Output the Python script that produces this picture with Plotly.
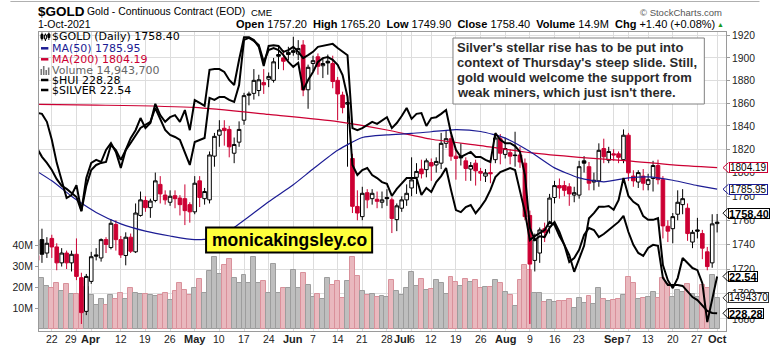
import math
import pandas as pd
import plotly.graph_objects as go

# ---------------------------------------------------------------- sessions
holidays = ["2021-04-02", "2021-05-31", "2021-07-05", "2021-09-06"]
dates = [d.strftime("%Y-%m-%d") for d in pd.bdate_range("2021-03-17", "2021-10-01")
         if d.strftime("%Y-%m-%d") not in holidays]

# ---------------------------------------------------------------- $GOLD daily OHLC (rows = weeks)
gold_open = [
    1731, 1744, 1733,
    1745, 1738, 1725, 1733, 1725,
    1732, 1713, 1686, 1710,
    1731.5, 1729, 1744, 1737.5, 1756.5,
    1744, 1731, 1746, 1734, 1764,
    1776.5, 1770.5, 1776.5, 1790, 1781,
    1775, 1780.5, 1778.5, 1778, 1773,
    1767, 1793, 1778, 1777, 1814,
    1832, 1838, 1837, 1816.5, 1826,
    1845, 1868, 1868.5, 1871, 1878,
    1881, 1880, 1903, 1900, 1905,
    1906.5, 1903.5, 1911.6, 1871.7,
    1895, 1901, 1893, 1897, 1895,
    1880, 1867, 1859, 1812, 1771.5,
    1763, 1783, 1778, 1777.5, 1775,
    1779, 1777, 1760.5, 1770, 1777,
    1787, 1796, 1803, 1802.5,
    1808.5, 1806.5, 1808, 1825, 1829,
    1814, 1814, 1810, 1803, 1808,
    1801, 1797, 1800, 1811, 1829,
    1815.5, 1817, 1815, 1815, 1808,
    1764, 1727, 1733, 1753, 1755,
    1779, 1789, 1789, 1788, 1781,
    1781, 1810, 1805, 1792, 1793,
    1820.5, 1810.5, 1816, 1816, 1811,
    1832, 1797, 1792, 1797,
    1790, 1795, 1806, 1794, 1755,
    1753, 1765, 1773, 1770, 1742,
    1752, 1749, 1734, 1725, 1757.2,
]
gold_high = [
    1734, 1753, 1746,
    1748, 1741, 1737, 1735, 1735,
    1745, 1717, 1716, 1734,
    1737, 1745, 1746, 1761, 1760,
    1747, 1750, 1749, 1774, 1784,
    1780, 1778, 1800, 1797, 1785,
    1785, 1785, 1781, 1790, 1775,
    1797, 1797, 1787, 1818, 1834,
    1845, 1845, 1840, 1830, 1844,
    1869, 1870, 1890, 1885, 1890,
    1887, 1900, 1910, 1907, 1910,
    1919, 1916, 1916, 1894,
    1902, 1904, 1900, 1903, 1902,
    1883, 1870, 1866, 1816, 1785,
    1788, 1786, 1786, 1784, 1784,
    1786, 1779, 1774, 1780, 1790,
    1813, 1808, 1811, 1812,
    1812, 1813, 1834, 1836, 1832,
    1820, 1825, 1813, 1809, 1811,
    1804, 1803, 1808, 1833, 1833,
    1830, 1820, 1835, 1822, 1812,
    1768, 1749, 1754, 1758, 1782,
    1793, 1795, 1793, 1791, 1788,
    1810, 1814, 1809, 1800, 1825,
    1829, 1822, 1820, 1818, 1837,
    1834, 1802, 1802, 1803,
    1799, 1810, 1811, 1797, 1760,
    1766, 1785, 1786, 1774, 1752,
    1762, 1752, 1738, 1765, 1765.2,
]
gold_low = [
    1722, 1725, 1729,
    1729, 1719, 1722, 1720, 1718,
    1711, 1676, 1683, 1708,
    1727, 1726, 1733, 1736, 1735,
    1729, 1723, 1733, 1733, 1763,
    1767, 1762, 1775, 1774, 1773,
    1772, 1770, 1764, 1756, 1758,
    1765, 1771, 1773, 1774, 1805,
    1822, 1823, 1813, 1808, 1822,
    1841, 1858, 1863, 1866, 1868,
    1874, 1878, 1890, 1889, 1898,
    1902, 1898, 1866, 1855,
    1888, 1885, 1882, 1885, 1873,
    1845, 1851, 1805, 1766, 1760,
    1760, 1770, 1773, 1770, 1770,
    1772, 1749.4, 1751, 1767, 1772,
    1780, 1782, 1795, 1796,
    1793, 1800, 1803, 1821, 1810,
    1794, 1806, 1793, 1793, 1789,
    1793, 1792, 1791, 1808, 1807,
    1812, 1807, 1805, 1804, 1760,
    1676, 1718, 1725, 1742, 1749,
    1774, 1778, 1780, 1772, 1775,
    1778, 1800, 1785, 1785, 1788,
    1808, 1808, 1810, 1808, 1808,
    1793, 1788, 1787, 1785,
    1785, 1784, 1790, 1745, 1742,
    1741, 1760, 1765, 1743, 1737,
    1745, 1728, 1719, 1721, 1749.9,
]
gold_close = [
    1727, 1732, 1741,
    1738, 1725, 1733, 1725, 1732,
    1714, 1685, 1714, 1730,
    1730.5, 1744, 1740, 1757.5, 1744,
    1731.5, 1746, 1734.5, 1766, 1777,
    1770.5, 1776, 1793, 1782, 1777,
    1780, 1778, 1773, 1768, 1767,
    1791, 1779, 1784, 1815, 1831,
    1836.5, 1836, 1822, 1824, 1837,
    1866.5, 1867, 1880, 1880.5, 1876,
    1883.5, 1896.5, 1901.5, 1897, 1903,
    1905, 1908.5, 1871.5, 1891.6,
    1897.5, 1892.5, 1895, 1895.5, 1879,
    1868, 1856, 1860.5, 1771.6, 1766,
    1782.5, 1777, 1782.5, 1775.8, 1777,
    1778, 1761.5, 1772, 1777, 1782.5,
    1793.8, 1801, 1799, 1810,
    1805.6, 1809.5, 1825, 1829, 1814,
    1812, 1812.5, 1803.5, 1806, 1801.5,
    1799.5, 1799.7, 1799, 1829.6, 1816.5,
    1820.5, 1814, 1814.5, 1809, 1763,
    1724, 1744, 1752, 1750, 1778.5,
    1789, 1787, 1785, 1782, 1783,
    1805, 1808, 1791, 1793.5, 1819,
    1813.5, 1818, 1815, 1813, 1832,
    1799.8, 1793, 1800, 1791,
    1794, 1806, 1794, 1755.3, 1751,
    1763, 1775, 1778, 1749, 1750,
    1751, 1737, 1722, 1757, 1758.4,
]
# daily volume, millions of contracts
volume_m = [
    21.0, 24.2, 20.6,
    19.5, 21.8, 18.2, 21.5, 16.6,
    16.6, 16.0, 20.0, 16.3,
    11.6, 14.3, 11.6, 16.3, 14.3,
    17.2, 14.3, 19.5, 17.2, 16.6,
    16.6, 16.3, 15.8, 16.3, 17.2,
    14.0, 18.0, 21.8, 18.7, 16.3,
    19.8, 23.9, 17.2, 27.8, 34.2,
    26.3, 30.5, 33.2, 24.2, 21.8,
    25.8, 21.8, 34.2, 21.8, 23.1,
    17.1, 31.0, 17.4, 19.8, 19.4,
    28.2, 19.6, 26.8, 21.0,
    15.5, 16.7, 14.5, 24.2, 21.0,
    23.0, 15.0, 22.8, 34.5, 25.5,
    18.3, 16.3, 17.0, 15.5, 15.8,
    15.5, 23.4, 18.0, 16.5, 19.5,
    27.2, 20.5, 24.0, 18.5,
    19.0, 23.5, 22.0, 17.0, 25.0,
    22.5, 20.5, 24.0, 22.5, 23.4,
    19.5, 20.0, 20.0, 23.4, 22.0,
    17.5, 16.5, 11.0, 23.4, 30.5,
    28.2, 17.4, 17.4, 13.1, 13.9,
    13.0, 13.6, 13.3, 14.3, 10.3,
    14.7, 12.5, 15.8, 12.2, 19.5,
    14.5, 13.5, 14.0, 14.5, 16.5,
    24.7, 21.8, 14.5, 14.8,
    15.5, 17.5, 15.0, 24.2, 21.5,
    15.5, 18.7, 17.8, 21.5, 17.0,
    15.5, 20.9, 19.5, 25.8, 14.9437,
]
# $SILVER close
silver = [
    26.44, 26.42, 26.23,
    25.80, 25.25, 24.84, 24.41, 24.48,
    24.72, 24.10, 24.89, 25.25,
    25.32, 25.27, 25.56, 25.72, 25.51,
    25.13, 25.56, 25.84, 26.03, 26.32,
    26.08, 26.20, 26.66, 26.39, 26.23,
    26.34, 26.39, 26.23, 26.51, 26.03,
    26.75, 26.68, 26.61, 27.47, 27.49,
    27.49, 27.42, 27.23, 27.11, 27.71,
    28.25, 28.25, 28.18, 28.02, 27.56,
    28.04, 28.06, 28.04, 27.90, 27.94,
    28.02, 27.90, 27.75, 27.82,
    27.90, 28.02, 28.04, 28.06, 28.09,
    27.99, 27.90, 27.82, 26.08, 26.03,
    26.08, 26.15, 26.23, 26.18, 26.27,
    26.34, 26.08, 26.20, 26.37, 26.56,
    26.30, 26.42, 26.44, 26.13,
    26.32, 26.34, 26.42, 26.51, 25.96,
    25.56, 25.39, 25.46, 25.51, 25.39,
    25.39, 25.32, 25.27, 25.96, 25.80,
    25.72, 25.72, 25.65, 25.51, 24.96,
    23.70, 23.41, 23.50, 23.48, 23.70,
    23.84, 23.60, 23.29, 23.05, 22.65,
    22.98, 23.27, 23.93, 24.05, 24.20,
    24.20, 24.22, 24.13, 24.36, 24.89,
    24.46, 24.32, 24.24, 23.98,
    23.89, 23.89, 23.93, 22.81, 22.45,
    22.26, 22.50, 22.98, 22.86, 22.74,
    22.69, 22.38, 21.45, 22.03, 22.54,
]
# $HUI close
hui = [
    277.3, 274.7, 272.9,
    270.8, 268.1, 266.1, 265.2, 264.0,
    262.8, 258.6, 266.1, 270.8,
    272.3, 272.9, 273.2, 278.2, 276.7,
    273.8, 276.7, 278.8, 280.9, 283.3,
    284.2, 285.1, 289.2, 286.2, 282.7,
    281.2, 280.6, 279.7, 275.9, 272.3,
    279.1, 279.7, 280.3, 292.2, 291.6,
    292.5, 292.5, 291.6, 291.0, 296.0,
    309.4, 310.0, 309.1, 307.9, 302.9,
    306.4, 307.0, 306.4, 304.9, 302.9,
    301.4, 302.6, 294.5, 297.5,
    299.9, 302.9, 304.0, 304.3, 303.5,
    302.0, 299.0, 292.5, 272.3, 269.3,
    270.8, 271.4, 269.3, 268.4, 267.2,
    266.7, 263.1, 265.2, 266.7, 268.4,
    268.4, 268.4, 263.4, 265.5,
    264.3, 267.2, 269.0, 271.4, 264.9,
    258.9, 258.3, 259.8, 260.4, 258.0,
    259.8, 261.9, 264.9, 268.7, 270.2,
    270.8, 271.4, 270.8, 264.9, 258.3,
    250.0, 251.2, 252.1, 253.0, 255.4,
    254.5, 251.2, 248.6, 243.5, 244.7,
    247.1, 251.5, 253.6, 253.0, 250.9,
    251.8, 253.0, 254.2, 255.4, 257.2,
    252.4, 248.6, 246.2, 245.3,
    247.7, 248.6, 248.3, 238.8, 236.7,
    236.7, 236.7, 236.4, 234.6, 233.1,
    232.2, 230.7, 229.0, 228.4, 228.28,
]
# moving averages
ma50_dates = ["2021-03-17", "2021-03-22", "2021-03-26", "2021-03-29", "2021-04-05", "2021-04-12",
              "2021-04-19", "2021-04-26", "2021-05-03", "2021-05-10", "2021-05-17", "2021-05-24",
              "2021-06-01", "2021-06-07", "2021-06-14", "2021-06-21", "2021-06-28", "2021-07-06",
              "2021-07-12", "2021-07-19", "2021-07-26", "2021-08-02", "2021-08-09", "2021-08-16",
              "2021-08-23", "2021-08-30", "2021-09-07", "2021-09-13", "2021-09-20", "2021-09-27",
              "2021-10-01"]
ma50 = [1801, 1793, 1780, 1777, 1766.5, 1757, 1751, 1747, 1744, 1746, 1760, 1775.5,
        1789.7, 1803, 1819, 1830, 1832.3, 1833.5, 1835, 1836.8, 1835.2, 1829.5, 1818, 1804,
        1795.5, 1792.2, 1795.5, 1796.4, 1793.5, 1789, 1785.95]
ma200_dates = ["2021-03-17", "2021-04-05", "2021-05-03", "2021-05-24", "2021-06-14", "2021-06-28",
               "2021-07-12", "2021-07-26", "2021-08-09", "2021-08-23", "2021-09-07", "2021-09-20",
               "2021-10-01"]
ma200 = [1858.8, 1858.2, 1856.2, 1850.0, 1843.8, 1836.5, 1828.5, 1823.0, 1817.0, 1813.0,
         1810.0, 1806.5, 1804.19]

price_ticks = list(range(1680, 1921, 20))
volume_ticks = [10, 20, 30, 40]
date_labels = [
    ("2021-03-22", "22"), ("2021-03-29", "29"), ("2021-04-01", "Apr"), ("2021-04-12", "12"),
    ("2021-04-19", "19"), ("2021-04-26", "26"), ("2021-05-03", "May"), ("2021-05-10", "10"),
    ("2021-05-17", "17"), ("2021-05-24", "24"), ("2021-06-01", "Jun"), ("2021-06-07", "7"),
    ("2021-06-14", "14"), ("2021-06-21", "21"), ("2021-06-28", "28"), ("2021-07-01", "Jul"),
    ("2021-07-06", "6"), ("2021-07-12", "12"), ("2021-07-19", "19"), ("2021-07-26", "26"),
    ("2021-08-02", "Aug"), ("2021-08-09", "9"), ("2021-08-16", "16"), ("2021-08-23", "23"),
    ("2021-09-01", "Sep"), ("2021-09-07", "7"), ("2021-09-13", "13"), ("2021-09-20", "20"),
    ("2021-09-27", "27"), ("2021-10-01", "Oct"),
]
months = {"Apr", "May", "Jun", "Jul", "Aug", "Sep", "Oct"}
comment = ["Silver's stellar rise has to be put into",
           "context of Thursday's steep slide. Still,",
           "gold would welcome the support from",
           "weak miners, which just isn't there."]

# ---------------------------------------------------------------- styling / geometry
RED = "#cc0033"
NAVY = "#1c1c94"
GRID = "#dddddd"
FRAME = "#9a9a9a"
ARIAL = "Liberation Sans, Arial, sans-serif"
VERD = "DejaVu Sans, Verdana, sans-serif"
PL, PR, PT, PB = 29, 726, 32, 331          # plot box, pixels


def fx(x):
    return (x - PL) / (PR - PL)


def fy(y):
    return (PB - y) / (PB - PT)


n = len(dates)
xs = list(range(n))
pos = {d: i for i, d in enumerate(dates)}

prev_close = [gold_open[0]] + gold_close[:-1]
up = [c >= p for c, p in zip(gold_close, prev_close)]
hollow = [c >= o for c, o in zip(gold_close, gold_open)]

fig = go.Figure()

# volume histogram (main y, left)
fig.add_trace(go.Bar(
    x=xs, y=volume_m, width=1, yaxis="y", hoverinfo="skip",
    marker=dict(color=["#bebebe" if u else "#e9b8be" for u in up],
                line=dict(color=["#9d9d9d" if u else "#d9919b" for u in up], width=1)),
))

# moving averages
fig.add_trace(go.Scatter(x=[pos[d] for d in ma200_dates], y=ma200, yaxis="y2", mode="lines",
                         line=dict(color=RED, width=1.2, shape="spline", smoothing=0.6),
                         hoverinfo="skip"))
fig.add_trace(go.Scatter(x=[pos[d] for d in ma50_dates], y=ma50, yaxis="y2", mode="lines",
                         line=dict(color=NAVY, width=1.2, shape="spline", smoothing=0.6),
                         hoverinfo="skip"))

# candles: black when up on the day, red when down; hollow when close >= open
styles = {(True, True): ("#000000", "#ffffff"), (True, False): ("#000000", "#000000"),
          (False, True): (RED, "#ffffff"), (False, False): (RED, RED)}
for key, (lc, fc) in styles.items():
    sel = [i for i in xs if (up[i], hollow[i]) == key]
    if not sel:
        continue
    fig.add_trace(go.Candlestick(
        x=sel, open=[gold_open[i] for i in sel], high=[gold_high[i] for i in sel],
        low=[gold_low[i] for i in sel], close=[gold_close[i] for i in sel],
        yaxis="y2", whiskerwidth=0, hoverinfo="skip",
        increasing=dict(line=dict(color=lc, width=1), fillcolor=fc),
        decreasing=dict(line=dict(color=lc, width=1), fillcolor=fc),
    ))

# overlays
fig.add_trace(go.Scatter(x=xs, y=silver, yaxis="y3", mode="lines",
                         line=dict(color="black", width=2), hoverinfo="skip"))
fig.add_trace(go.Scatter(x=xs, y=hui, yaxis="y4", mode="lines",
                         line=dict(color="black", width=2), hoverinfo="skip"))

ann = []
shapes = []


def text(x, y, s, size, color="#000", family=ARIAL, anchor="left", **kw):
    ann.append(dict(xref="paper", yref="paper", x=fx(x), y=fy(y), text=s, showarrow=False,
                    xanchor=anchor, yanchor="middle", font=dict(size=size, color=color, family=family),
                    **kw))


# header
shapes.append(dict(type="line", xref="paper", yref="paper", x0=fx(0), x1=fx(760), y0=fy(1.5), y1=fy(1.5),
                   line=dict(color="#b0b0b0", width=1)))
text(26, 11, "<b>$GOLD</b>", 13.5)
text(76, 11.5, "Gold - Continuous Contract (EOD)", 10.4)
text(242, 12, "CME", 9.5)
text(26, 24.5, "1-Oct-2021", 10.5)
chg = gold_close[-1] - gold_close[-2]
ohlc = (f"<b>Open</b> {gold_open[-1]:.2f}  <b>High</b> {gold_high[-1]:.2f}  "
        f"<b>Low</b> {gold_low[-1]:.2f}  <b>Close</b> {gold_close[-1]:.2f}  "
        f"<b>Volume</b> {volume_m[-1]:.1f}M  <b>Chg</b> {chg:+.2f} ({chg / gold_close[-2] * 100:+.2f}%)")
text(717, 24.5, ohlc, 11, anchor="right")
text(720.5, 24, "▲", 7, color="#1a9a1a", anchor="center")
text(724, 12, "© StockCharts.com", 9.5, color="#555", anchor="right")

# legend block
rows = [
    (36.7, f"$GOLD (Daily) {gold_close[-1]:.2f}", "#000"),
    (48.3, f"MA(50) {ma50[-1]:.2f}", NAVY),
    (59.3, f"MA(200) {ma200[-1]:.2f}", RED),
    (70.0, f"Volume {round(volume_m[-1] * 1e6):,}", "#666"),
    (80.0, f"$HUI {hui[-1]:.2f}", "#000"),
    (90.0, f"$SILVER {silver[-1]:.2f}", "#000"),
]
for y, s, c in rows:
    text(40, y, s, 11, color=c, family=VERD)
for y, c in [(48.3, NAVY), (59.3, RED), (80.0, "#000"), (90.0, "#000")]:
    shapes.append(dict(type="line", xref="paper", yref="paper", x0=fx(31), x1=fx(38.5),
                       y0=fy(y), y1=fy(y), line=dict(color=c, width=2.5)))
for x, y0, y1 in [(32, 32.5, 40.5), (35.5, 33.5, 41), (39, 32.5, 40)]:
    shapes.append(dict(type="line", xref="paper", yref="paper", x0=fx(x), x1=fx(x),
                       y0=fy(y0), y1=fy(y1), line=dict(color="#000", width=1)))
for x0, x1, y0, y1, f in [(31, 33, 34.5, 38.5, "#000"), (34.5, 36.5, 35, 39, "#fff"), (38, 40, 34, 37.5, "#000")]:
    shapes.append(dict(type="rect", xref="paper", yref="paper", x0=fx(x0), x1=fx(x1),
                       y0=fy(y0), y1=fy(y1), fillcolor=f, line=dict(color="#000", width=1)))
for x0, y0 in [(30.5, 69), (33, 66), (35.5, 70), (38, 67.5)]:
    shapes.append(dict(type="rect", xref="paper", yref="paper", x0=fx(x0), x1=fx(x0 + 1.6),
                       y0=fy(y0), y1=fy(75), fillcolor="#777", line=dict(width=0)))

# date axis labels
for d, s in date_labels:
    ann.append(dict(xref="x", yref="paper", x=pos[d], y=0, yshift=-7.5,
                    xshift=-5 if d == "2021-03-29" else 0,
                    text=f"<b>{s}</b>" if s in months else s, showarrow=False,
                    xanchor="center", yanchor="middle",
                    font=dict(size=11 if s in months else 10.5, color="#222", family=ARIAL)))

# commentary box
shapes.append(dict(type="rect", xref="paper", yref="paper", x0=fx(449), x1=fx(704), y0=fy(38), y1=fy(104),
                   fillcolor="white", line=dict(color="#808080", width=1), layer="above"))
for k, line in enumerate(comment):
    text(451, 47.3 + 15 * k, f"<b>{line}</b>", 13, color="#2a2a2a")

# site stamp
shapes.append(dict(type="rect", xref="paper", yref="paper", x0=fx(198.5), x1=fx(367), y0=fy(227.5), y1=fy(252.5),
                   fillcolor="#ffff3c", line=dict(color="#000", width=2), layer="above"))
text(282.8, 240.3, "<b>monicakingsley.co</b>", 17.5, anchor="center")


# right-edge value tags
def tag(yref, value, label, border, bold=False, shift=0, gap=2, log=False):
    yv = math.log10(value) if log else value
    ann.append(dict(xref="paper", yref=yref, x=1, y=yv, xanchor="left", yanchor="middle",
                    xshift=gap, yshift=shift, showarrow=False, height=9, borderpad=0,
                    text=f"<b>{label}</b>" if bold else label,
                    font=dict(size=11 if bold else 10, color="#000", family=ARIAL),
                    bgcolor="white", bordercolor=border, borderwidth=1))
    shapes.append(dict(type="path", xref="paper", yref=yref, xsizemode="pixel", ysizemode="pixel",
                       xanchor=1, yanchor=value,
                       path=f"M {gap},{shift + 5} L -3,{shift} L {gap},{shift - 5}",
                       line=dict(color=border, width=1)))


tag("y2", ma200[-1], f"{ma200[-1]:.2f}", RED, gap=2.5, log=True)
tag("y2", ma50[-1], f"{ma50[-1]:.2f}", NAVY, gap=2.5, log=True)
tag("y2", gold_close[-1], f"{gold_close[-1]:.2f}", "#000", bold=True, shift=9, log=True)
tag("y3", silver[-1], f"{silver[-1]:.2f}", "#000", bold=True)
tag("y", volume_m[-1], f"{round(volume_m[-1] * 1e5)}", "#333")
tag("y4", hui[-1], f"{hui[-1]:.2f}", "#000", bold=True)

fig.update_layout(
    width=774, height=347, margin=dict(l=PL, r=774 - PR, t=PT, b=347 - PB),
    paper_bgcolor="white", plot_bgcolor="white", showlegend=False,
    bargap=0, boxgap=0.27, boxgroupgap=0,
    xaxis=dict(range=[0.4, 139.8], tickvals=[pos[d] for d, _ in date_labels], showticklabels=False,
               ticks="", showgrid=True, gridcolor=GRID, gridwidth=1, zeroline=False,
               showline=True, linecolor=FRAME, mirror=True, rangeslider=dict(visible=False),
               fixedrange=True),
    yaxis=dict(range=[-0.758, 140.95], side="left", tickvals=volume_ticks,
               ticktext=[f"{v}M" for v in volume_ticks], ticks="outside", ticklen=3, tickcolor=FRAME,
               showgrid=False, zeroline=False, showline=True, linecolor=FRAME, mirror=True,
               tickfont=dict(size=10.5, color="#222", family=ARIAL), fixedrange=True),
    yaxis2=dict(overlaying="y", side="right", type="log",
                range=[math.log10(1670.46), math.log10(1923.35)],
                tickvals=price_ticks, ticktext=[str(v) for v in price_ticks], ticks="outside",
                ticklen=3, tickcolor=FRAME, showgrid=True, gridcolor=GRID, zeroline=False,
                showline=False, tickfont=dict(size=10.3, color="#222", family=ARIAL), fixedrange=True),
    yaxis3=dict(overlaying="y", range=[21.2375, 28.3735], visible=False, fixedrange=True),
    yaxis4=dict(overlaying="y", range=[223.03, 311.75], visible=False, fixedrange=True),
    annotations=ann, shapes=shapes,
)

fig.write_html("out.html", config={"displayModeBar": False})
